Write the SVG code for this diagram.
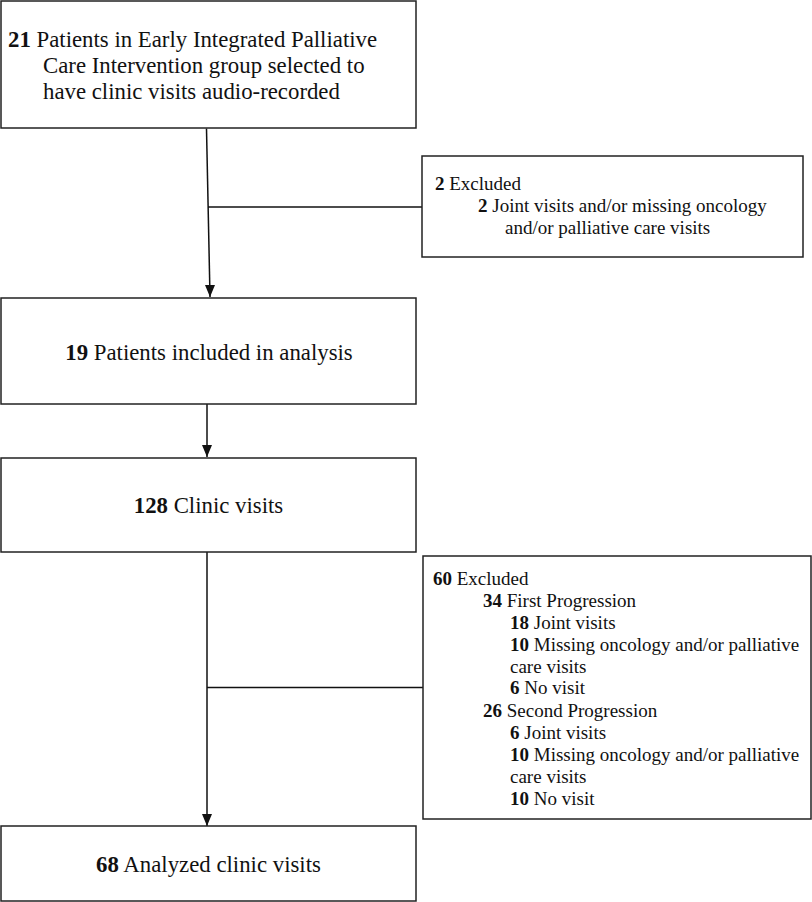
<svg xmlns="http://www.w3.org/2000/svg" width="812" height="902" viewBox="0 0 812 902">
<defs>
<style>
.box{fill:#fff;stroke:#222;stroke-width:1.5}
.ln{fill:none;stroke:#111;stroke-width:1.5}
text{font-family:"Liberation Serif","Times New Roman",serif;fill:#111}
.big{font-size:22.8px}
.sm{font-size:19px}
.b{font-weight:bold}
</style>
<marker id="ad" viewBox="0 0 10 12" refX="5" refY="12" markerWidth="10" markerHeight="12" markerUnits="userSpaceOnUse" orient="0">
<path d="M0,0 L10,0 L5,12 Z" fill="#111"/>
</marker>
</defs>
<g id="connectors">
<path class="ln" d="M206.5,128.5 L210,297" marker-end="url(#ad)"/>
<path class="ln" d="M208,207 L423,207"/>
<path class="ln" d="M207,404 L207,457" marker-end="url(#ad)"/>
<path class="ln" d="M207,552 L207,826" marker-end="url(#ad)"/>
<path class="ln" d="M207,687.5 L423,687.5"/>
</g>
<g id="n1">
<rect class="box" x="1" y="1" width="415" height="127"/>
<text class="big" x="8" y="47"><tspan class="b">21</tspan> Patients in Early Integrated Palliative</text>
<text class="big" x="43" y="73">Care Intervention group selected to</text>
<text class="big" x="43" y="99">have clinic visits audio-recorded</text>
</g>
<g id="n2">
<rect class="box" x="422" y="156" width="381" height="101"/>
<text class="sm" x="435" y="190"><tspan class="b">2</tspan> Excluded</text>
<text class="sm" x="478" y="212"><tspan class="b">2</tspan> Joint visits and/or missing oncology</text>
<text class="sm" x="505" y="234">and/or palliative care visits</text>
</g>
<g id="n3">
<rect class="box" x="1" y="298" width="415" height="106"/>
<text class="big" x="209" y="360" text-anchor="middle"><tspan class="b">19</tspan> Patients included in analysis</text>
</g>
<g id="n4">
<rect class="box" x="1" y="458" width="415" height="94"/>
<text class="big" x="208.5" y="513" text-anchor="middle"><tspan class="b">128</tspan> Clinic visits</text>
</g>
<g id="n5">
<rect class="box" x="423" y="556" width="388" height="263"/>
<text class="sm" x="433" y="585"><tspan class="b">60</tspan> Excluded</text>
<text class="sm" x="483" y="607"><tspan class="b">34</tspan> First Progression</text>
<text class="sm" x="510" y="629"><tspan class="b">18</tspan> Joint visits</text>
<text class="sm" x="510" y="651"><tspan class="b">10</tspan> Missing oncology and/or palliative</text>
<text class="sm" x="510" y="673">care visits</text>
<text class="sm" x="510" y="694"><tspan class="b">6</tspan> No visit</text>
<text class="sm" x="483" y="717"><tspan class="b">26</tspan> Second Progression</text>
<text class="sm" x="510" y="739"><tspan class="b">6</tspan> Joint visits</text>
<text class="sm" x="510" y="761"><tspan class="b">10</tspan> Missing oncology and/or palliative</text>
<text class="sm" x="510" y="783">care visits</text>
<text class="sm" x="510" y="805"><tspan class="b">10</tspan> No visit</text>
</g>
<g id="n6">
<rect class="box" x="1" y="826" width="415" height="75"/>
<text class="big" x="208.5" y="872" text-anchor="middle"><tspan class="b">68</tspan> Analyzed clinic visits</text>
</g>
</svg>
